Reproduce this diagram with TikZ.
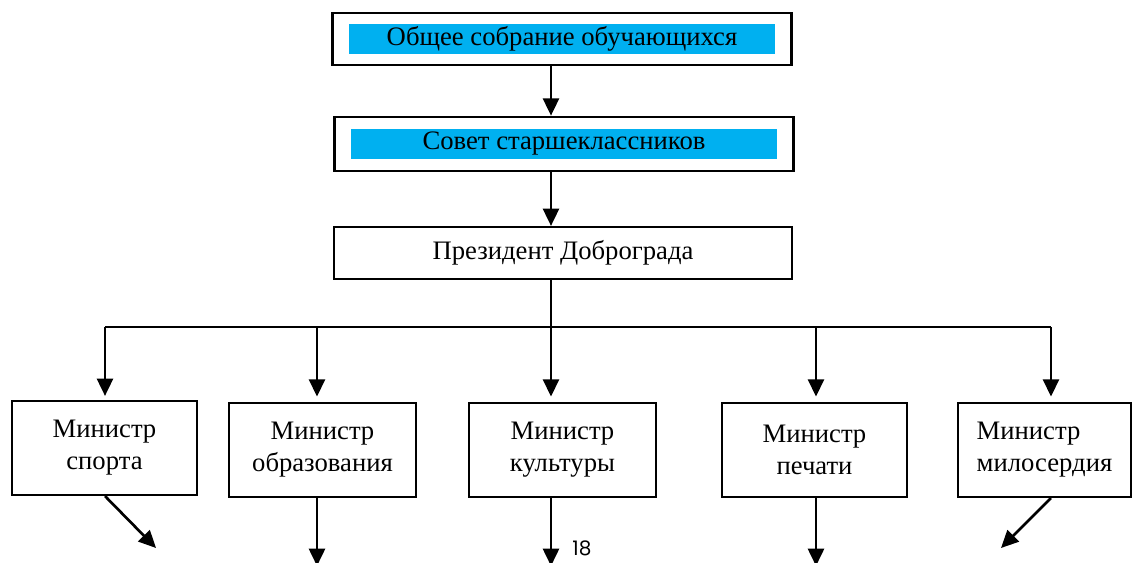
\documentclass[tikz,border=0pt]{standalone}
\usepackage{fontspec}
\setmainfont{Liberation Serif}
\newfontfamily\pagefont{Poppins}
\usepackage{tikz}
\usetikzlibrary{arrows.meta}
\usetikzlibrary{fit}
\definecolor{bandblue}{HTML}{00B0F0}

\begin{document}
\begin{tikzpicture}[x=0.75pt, y=-0.75pt, >={Triangle[length=13pt,width=12pt]}]
        \tikzstyle{band} = [fill=bandblue, minimum width=319.5pt, minimum height=22.5pt, inner sep=0pt, font=\fontsize{20}{24}\selectfont]
        \tikzstyle{frame} = [draw, line width=1.6pt, inner xsep=12.2pt]
        \tikzstyle{post} = [draw, line width=1.6pt, minimum width=139pt, minimum height=70.5pt, align=center, font=\fontsize{20}{24}\selectfont]
        \tikzstyle{link} = [->, line width=2pt]
        \useasboundingbox (0,0) rectangle (1133,562);

        % top of the chart
        \node[band] (assemblyband) at (562,39) {Общее собрание обучающихся};
        \node[frame, inner ysep=7.9pt, fit=(assemblyband)] (assembly) {};
        \node[band] (councilband) at (564,144) {Совет старшеклассников};
        \node[frame, inner ysep=9pt, fit=(councilband)] (council) {};
        \node[post, minimum width=343.5pt, minimum height=39pt] (president) at (563,253) {Президент Доброграда};

        % ministers
        \node[post, minimum width=138.75pt] (sport) at (104.5,448) {Министр\\спорта};
        \node[post, minimum width=140pt] (education) at (322.5,450) {Министр\\образования};
        \node[post, minimum width=140pt] (culture) at (562.5,450) {Министр\\культуры};
        \node[post, minimum width=138.75pt] (press) at (814.5,450) {Министр\\печати};
        \node[post, minimum width=130pt, align=left] (mercy) at (1044.5,450) {Министр\\милосердия};

        \node[font=\pagefont\fontsize{15}{17}\selectfont, anchor=base, inner sep=1pt] (pageno) at (582,555) {18};

        % bus line
        \coordinate (b1) at (105,327);
        \coordinate (b2) at (317,327);
        \coordinate (b3) at (551,327);
        \coordinate (b4) at (816,327);
        \coordinate (b5) at (1051,327);
        \coordinate (e1) at (156,548);
        \coordinate (e2) at (317,566);
        \coordinate (e3) at (551,566);
        \coordinate (e4) at (816,566);
        \coordinate (e5) at (1001,548);

        \draw[line width=1.6pt] (b1) -- (b5);
        \draw[line width=1.2pt] (president.south -| b3) -- (b3);

        \path[link]
        (assembly.south -| b3) edge (council.north -| b3)
        (council.south -| b3) edge (president.north -| b3)

        % down to the ministers
        (b1) edge[shorten >=3pt] (sport.north -| b1)
        (b2) edge[shorten >=4pt] (education.north -| b2)
        (b3) edge[shorten >=4pt] (culture.north -| b3)
        (b4) edge[shorten >=4pt] (press.north -| b4)
        (b5) edge[shorten >=4pt] (mercy.north -| b5)

        % outgoing
        (sport.south -| b1) edge (e1)
        (education.south -| b2) edge (e2)
        (culture.south -| b3) edge (e3)
        (press.south -| b4) edge (e4)
        (mercy.south -| b5) edge (e5)
        ;
\end{tikzpicture}
\end{document}
